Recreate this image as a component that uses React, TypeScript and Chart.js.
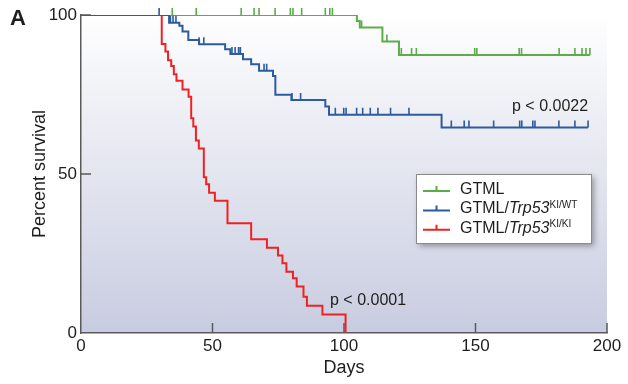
import React, { useEffect, useRef } from "react";
import { Chart, registerables } from "chart.js";

Chart.register(...registerables);

const FONT = '"Liberation Sans", Arial, Helvetica, sans-serif';

const xTicks = [0, 50, 100, 150, 200];
const yTicks = [0, 50, 100];

// Kaplan-Meier curves: event day and percent surviving after it
const gtmlDays = [0, 104.9, 106.0, 114.6, 120.9, 193.5];
const gtmlSurv = [100, 98.1, 96.1, 91.7, 87.4, 87.4];
const gtmlCensored = [34.7, 43.8, 60.9, 65.8, 67.7, 73.8, 79.6, 80.6, 83.9, 92.9, 94.6, 95.6, 106.7, 116.3, 121.8, 125.7, 127.5, 149.7, 150.5, 166.6, 167.5, 181.8, 187.8, 190.5, 192.0, 193.5];

const wtDays = [0, 33.5, 37.4, 38.6, 40.8, 44.9, 54.8, 56.8, 61.6, 64.7, 67.7, 73.0, 73.9, 80.0, 92.9, 94.3, 137.1, 192.8];
const wtSurv = [100, 97.6, 96.6, 94.8, 92.1, 90.8, 89.2, 87.7, 86.1, 84.5, 82.5, 80.8, 74.9, 73.3, 71.2, 68.6, 64.6, 64.6];
const wtCensored = [29.7, 34.0, 35.0, 36.1, 44.9, 46.7, 57.4, 58.6, 59.9, 60.6, 69.6, 70.6, 80.2, 83.5, 96.7, 99.9, 100.8, 104.8, 107.1, 110.0, 112.9, 117.7, 124.7, 140.8, 145.7, 147.5, 156.9, 166.8, 167.6, 171.8, 172.6, 181.7, 187.8, 192.8];

const kiDays = [0, 30.7, 32.1, 33.1, 34.3, 35.3, 36.3, 38.6, 40.9, 41.9, 42.7, 43.7, 44.8, 46.7, 47.6, 48.7, 50.9, 55.7, 64.7, 70.7, 74.9, 76.6, 78.1, 80.6, 82.0, 84.6, 85.9, 91.8, 100.6];
const kiSurv = [100, 90.9, 88.5, 85.8, 84.0, 81.4, 79.3, 76.6, 74.3, 67.5, 64.9, 60.5, 58.0, 49.0, 46.8, 44.1, 41.6, 34.5, 29.5, 26.8, 24.4, 21.9, 19.3, 17.2, 14.6, 11.4, 8.6, 5.8, 0];
const kiCensored: number[] = [];

const GREEN = "#5aad47";
const BLUE = "#2c5b9f";
const RED = "#ee2222";
const AXIS = "#5a5a5a";
const TEXT = "#1e1e1e";

const seriesList = [
  { name: "GTML/Trp53 KI/WT", days: wtDays, surv: wtSurv, cens: wtCensored, color: BLUE },
  { name: "GTML/Trp53 KI/KI", days: kiDays, surv: kiSurv, cens: kiCensored, color: RED },
  { name: "GTML", days: gtmlDays, surv: gtmlSurv, cens: gtmlCensored, color: GREEN },
];

const legendRows = [
  { color: GREEN, parts: [{ t: "GTML", style: "" }] },
  { color: BLUE, parts: [{ t: "GTML/", style: "" }, { t: "Trp53", style: "italic" }, { t: "KI/WT", style: "sup" }] },
  { color: RED, parts: [{ t: "GTML/", style: "" }, { t: "Trp53", style: "italic" }, { t: "KI/KI", style: "sup" }] },
];

function survivalAt(days: number[], surv: number[], t: number) {
  let s = surv[0];
  for (let i = 0; i < days.length; i++) if (days[i] <= t) s = surv[i];
  return s;
}

const decorPlugin = {
  id: "decor",
  beforeDraw(chart: any) {
    const { ctx, chartArea: a } = chart;
    ctx.save();
    const g = ctx.createLinearGradient(0, a.top - 3, 0, a.bottom);
    g.addColorStop(0, "#ffffff");
    g.addColorStop(1, "#c8cce0");
    ctx.fillStyle = g;
    ctx.fillRect(a.left, a.top - 3, a.right - a.left, a.bottom - a.top + 3);
    ctx.restore();
  },
  beforeDatasetsDraw(chart: any) {
    const { ctx, chartArea: a, scales } = chart;
    ctx.save();
    ctx.strokeStyle = AXIS;
    ctx.lineWidth = 1.5;
    ctx.beginPath();
    xTicks.filter((v) => v > 0).forEach((v) => {
      const px = scales.x.getPixelForValue(v);
      ctx.moveTo(px, a.bottom);
      ctx.lineTo(px, a.bottom - 10);
    });
    yTicks.filter((v) => v > 0).forEach((v) => {
      const py = scales.y.getPixelForValue(v);
      ctx.moveTo(a.left, py);
      ctx.lineTo(a.left + 10, py);
    });
    ctx.stroke();
    ctx.restore();
  },
  afterDatasetsDraw(chart: any) {
    const { ctx, scales } = chart;
    ctx.save();
    ctx.lineWidth = 1.6;
    [...seriesList].reverse().forEach((s) => {
      ctx.strokeStyle = s.color;
      ctx.beginPath();
      s.cens.forEach((t) => {
        const px = scales.x.getPixelForValue(t);
        const py = scales.y.getPixelForValue(survivalAt(s.days, s.surv, t));
        ctx.moveTo(px, py);
        ctx.lineTo(px, py - 7);
      });
      ctx.stroke();
    });

    // p-values
    ctx.fillStyle = TEXT;
    ctx.font = `16px ${FONT}`;
    ctx.textBaseline = "alphabetic";
    ctx.textAlign = "left";
    ctx.fillText("p < 0.0022", 512, 111);
    ctx.fillText("p < 0.0001", 330, 305);

    // panel letter
    ctx.font = `bold 22px ${FONT}`;
    ctx.fillText("A", 10, 25);

    // legend box
    const bx = 416, by = 174, bw = 175, bh = 69;
    ctx.save();
    ctx.shadowColor = "rgba(0,0,0,0.35)";
    ctx.shadowBlur = 6;
    ctx.shadowOffsetX = 3;
    ctx.shadowOffsetY = 3;
    ctx.fillStyle = "#ffffff";
    ctx.fillRect(bx, by, bw, bh);
    ctx.restore();
    ctx.strokeStyle = "#8a8a8a";
    ctx.lineWidth = 1;
    ctx.strokeRect(bx + 0.5, by + 0.5, bw, bh);

    legendRows.forEach((row, i) => {
      const cy = 188 + i * 19.4;
      ctx.strokeStyle = row.color;
      ctx.lineWidth = 2;
      ctx.beginPath();
      ctx.moveTo(423, cy + 3);
      ctx.lineTo(450, cy + 3);
      ctx.moveTo(436.5, cy + 3);
      ctx.lineTo(436.5, cy - 2);
      ctx.stroke();
      let x = 460;
      const base = cy + 6;
      ctx.fillStyle = TEXT;
      row.parts.forEach((p) => {
        if (p.style === "sup") {
          ctx.font = `10px ${FONT}`;
          ctx.fillText(p.t, x, base - 5.5);
        } else {
          ctx.font = `${p.style === "italic" ? "italic " : ""}16px ${FONT}`;
          ctx.fillText(p.t, x, base);
        }
        x += ctx.measureText(p.t).width;
      });
    });
    ctx.restore();
  },
};

export default function App() {
  const ref = useRef<HTMLCanvasElement | null>(null);
  useEffect(() => {
    if (!ref.current) return;
    const chart = new Chart(ref.current, {
      type: "line",
      data: {
        datasets: seriesList.map((s) => ({
          label: s.name,
          data: s.days.map((d, i) => ({ x: d, y: s.surv[i] })),
          borderColor: s.color,
          borderWidth: 2,
          pointRadius: 0,
          stepped: "before" as const,
          fill: false,
          tension: 0,
        })),
      },
      options: {
        animation: false,
        responsive: false,
        events: [],
        layout: { padding: { left: 0, top: 15, right: 21, bottom: 0 } },
        plugins: { legend: { display: false }, tooltip: { enabled: false } },
        scales: {
          x: {
            type: "linear",
            min: 0,
            max: 200,
            afterBuildTicks: (s: any) => {
              s.ticks = xTicks.map((v) => ({ value: v }));
            },
            afterFit: (s: any) => {
              s.height = 51;
            },
            ticks: { padding: 3, color: TEXT, font: { family: FONT, size: 17 } },
            grid: { display: false, drawTicks: false },
            border: { display: true, color: AXIS, width: 1.5 },
            title: {
              display: true,
              text: "Days",
              color: TEXT,
              font: { family: FONT, size: 18 },
              padding: { top: 0, bottom: 5 },
            },
          },
          y: {
            type: "linear",
            min: 0,
            max: 100,
            afterBuildTicks: (s: any) => {
              s.ticks = yTicks.map((v) => ({ value: v }));
            },
            afterFit: (s: any) => {
              s.width = 81;
            },
            ticks: { padding: 4, color: TEXT, font: { family: FONT, size: 17 } },
            grid: { display: false, drawTicks: false },
            border: { display: true, color: AXIS, width: 1.5 },
            title: {
              display: true,
              text: "Percent survival",
              color: TEXT,
              font: { family: FONT, size: 18 },
              padding: { top: 29, bottom: 0 },
            },
          },
        },
      },
      plugins: [decorPlugin],
    });
    return () => chart.destroy();
  }, []);
  return (
    <div style={{ position: "absolute", left: 0, top: 0, width: 628, height: 384, background: "#fff" }}>
      <canvas ref={ref} width={628} height={384} style={{ display: "block" }} />
    </div>
  );
}
